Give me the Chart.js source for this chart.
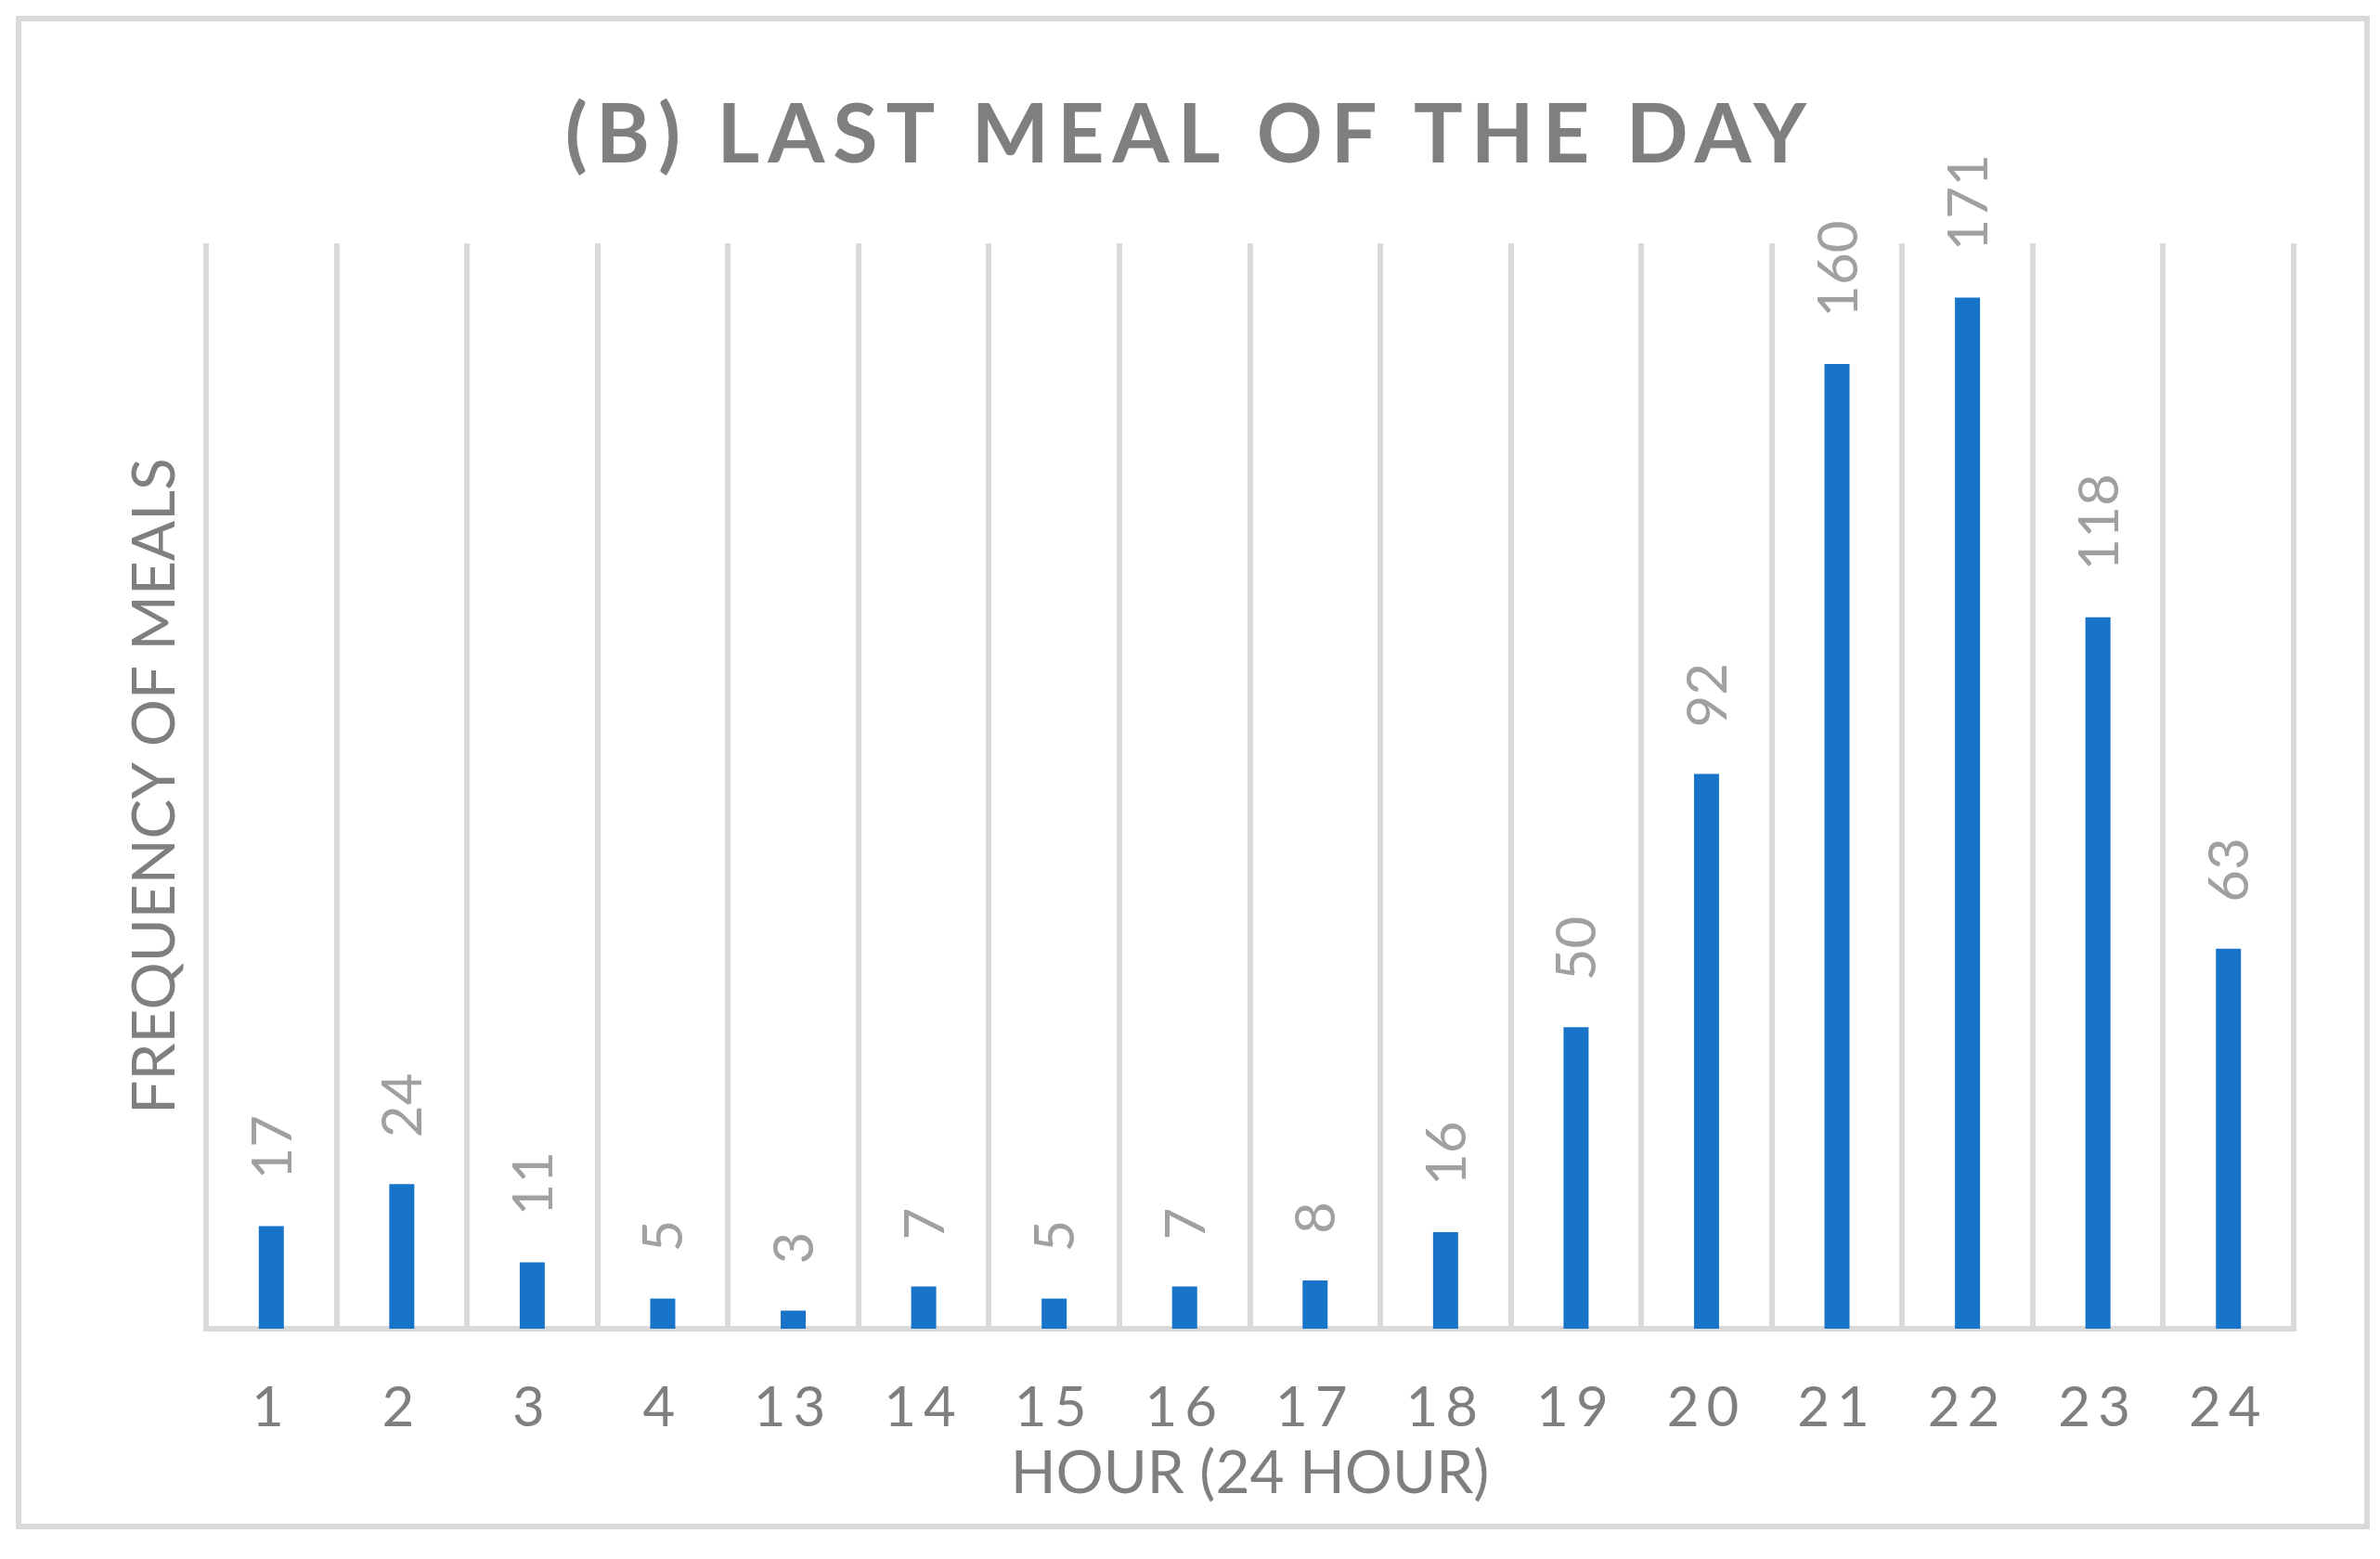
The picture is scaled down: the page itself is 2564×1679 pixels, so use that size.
<!DOCTYPE html>
<html>
<head>
<meta charset="utf-8">
<title>(B) Last meal of the day</title>
<script src="https://cdn.jsdelivr.net/npm/chart.js@4/dist/chart.umd.min.js"></script>
<style>
  body { margin: 0; background: #fff; }
  #wrap { position: relative; width: 2564px; height: 1679px; }
  #frame {
    position: absolute; left: 17px; top: 17px; width: 2536px; height: 1630px;
    box-sizing: border-box; border: 6px solid #d9d9d9; pointer-events: none;
  }
  canvas { position: absolute; left: 0; top: 0; }
</style>
</head>
<body>
<div id="wrap">
  <canvas id="mealChart" width="2564" height="1679"></canvas>
  <div id="frame"></div>
</div>
<script>
// hour of the last meal (x categories) and how many meals fell in it
const hours = ['1', '2', '3', '4', '13', '14', '15', '16', '17', '18', '19', '20', '21', '22', '23', '24'];
const meals = [17, 24, 11, 5, 3, 7, 5, 7, 8, 16, 50, 92, 160, 171, 118, 63];
const yMin = 0;
const yMax = 180;

const titleText = '(B) LAST MEAL OF THE DAY';
const xTitle = 'HOUR (24 HOUR)';
const yTitle = 'FREQUENCY OF MEALS';

const grey = '#7f7f7f';
const lightGrey = '#d9d9d9';

// letter spacing for ticks, value labels and the title (Chart.js has no option for it)
const spacedText = {
    id: 'spacedText',
    beforeDraw(chart) {
        chart.ctx.letterSpacing = '0px';
    },
    afterDatasetsDraw(chart) {
        // x tick labels are on layer z=1, so they get drawn after this
        chart.ctx.letterSpacing = '8px';
    },
    afterDraw(chart) {
        const ctx = chart.ctx;
        ctx.save();
        ctx.letterSpacing = '0px';

        // value labels, rotated, above each bar
        ctx.font = '60px Lato';
        ctx.fillStyle = '#a0a0a0';
        ctx.textAlign = 'left';
        ctx.textBaseline = 'alphabetic';
        chart.getDatasetMeta(0).data.forEach((bar, i) => {
            ctx.save();
            ctx.translate(bar.x, bar.y - 50);
            ctx.rotate(-Math.PI / 2);
            ctx.fillText(String(meals[i]), 0, 21.5);
            ctx.restore();
        });

        // chart title
        ctx.letterSpacing = '9px';
        ctx.font = 'bold 88px Lato';
        ctx.fillStyle = grey;
        ctx.textAlign = 'center';
        ctx.fillText(titleText, chart.width / 2, 175);

        ctx.restore();
        ctx.letterSpacing = '0px';
    }
};

function buildChart() {
    Chart.defaults.font.family = 'Lato';
    Chart.defaults.color = grey;

    new Chart(document.getElementById('mealChart').getContext('2d'), {
        type: 'bar',
        data: {
            labels: hours,
            datasets: [{
                data: meals,
                backgroundColor: '#1874c8',
                categoryPercentage: 1,
                barPercentage: 0.192
            }]
        },
        options: {
            responsive: false,
            animation: false,
            layout: { padding: { top: 262, right: 93, bottom: 53.6, left: 128.6 } },
            plugins: {
                legend: { display: false },
                tooltip: { enabled: false }
            },
            scales: {
                x: {
                    grid: { color: lightGrey, lineWidth: 6, drawTicks: false, offset: true },
                    border: { color: lightGrey, width: 6 },
                    ticks: { font: { size: 60 }, color: grey, padding: 50, maxRotation: 0, z: 1 },
                    title: {
                        display: true, text: xTitle, color: grey,
                        font: { size: 64 }, padding: { top: -54.4, bottom: 0 }
                    }
                },
                y: {
                    min: yMin,
                    max: yMax,
                    grid: { display: false },
                    border: { display: false },
                    ticks: { display: false },
                    title: {
                        display: true, text: yTitle, color: grey,
                        font: { size: 64 }, padding: { top: 0, bottom: 8.6 }
                    }
                }
            }
        },
        plugins: [spacedText]
    });
}

Promise.all([
    document.fonts.load('60px Lato'),
    document.fonts.load('bold 88px Lato')
]).then(buildChart, buildChart);
</script>
</body>
</html>
